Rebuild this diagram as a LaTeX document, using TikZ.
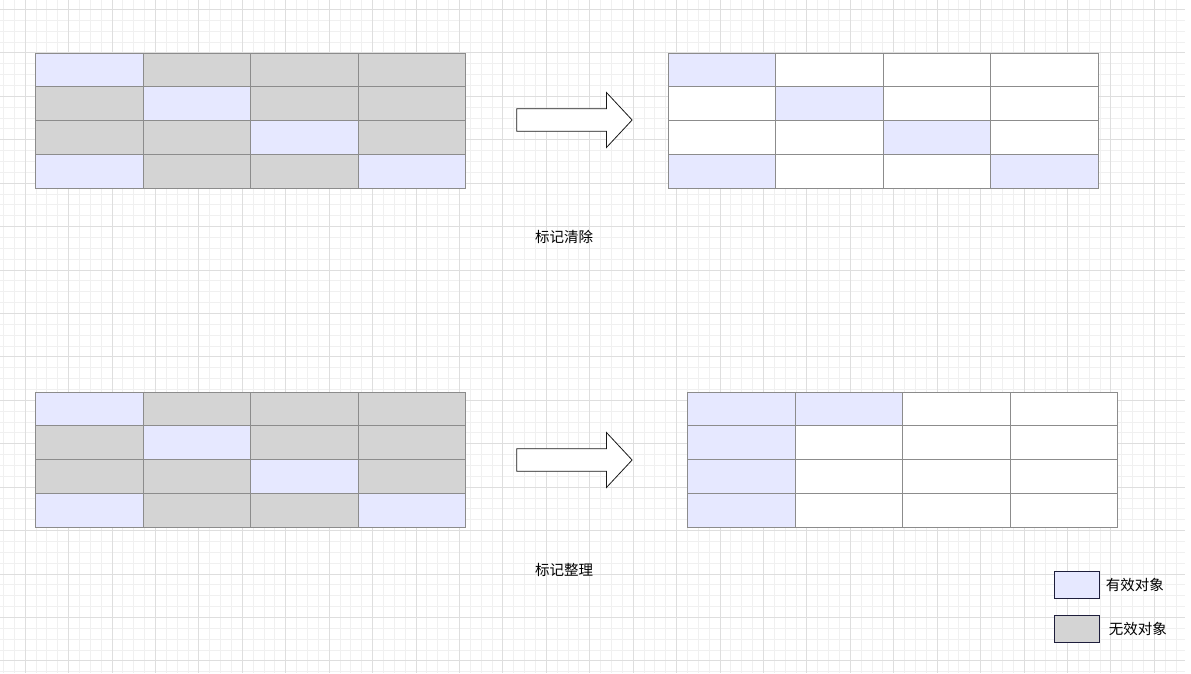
\documentclass[tikz,border=0pt]{standalone}
\usepackage{fontspec}
\setmainfont{Noto Sans CJK SC}
\usepackage{xcolor}
\usepackage{tikz}
\usetikzlibrary{positioning,shapes.arrows}
\definecolor{live}{HTML}{E6E8FF}
\definecolor{dead}{HTML}{D4D4D4}
\definecolor{free}{HTML}{FFFFFF}
\definecolor{cellline}{HTML}{8C8C8C}
\definecolor{keyline}{HTML}{1E1E3C}
\newcommand{\memtable}[4]{%
  \foreach \row [count=\r from 0] in {#4} {
    \foreach \f [count=\c from 0] in \row {
      \node[cell=\f] (#1-\r-\c) at ({#2+\c*107.5},{#3+\r*33.7}) {};
    }
  }
}

\begin{document}
\begin{tikzpicture}[
  x=1pt, y=-1pt,
  every node/.style={font=\fontsize{14.5}{17}\selectfont},
  minorline/.style={draw=black!6, line width=0.6pt},
  majorline/.style={draw=black!13, line width=0.7pt},
  cell/.style={draw=cellline, line width=0.8pt, fill=#1, anchor=north west,
               minimum width=107.5pt, minimum height=33.7pt, inner sep=0pt},
  bigarr/.style={single arrow, draw=black!90, fill=white, line width=0.8pt,
                 anchor=tail, minimum height=115.4pt, inner xsep=0pt, inner ysep=10.85pt,
                 single arrow head extend=16.2pt, single arrow tip angle=94},
  key/.style={draw=keyline, line width=0.8pt, fill=#1, anchor=north west,
              minimum width=44.5pt, minimum height=27pt, inner sep=0pt}
]
  \useasboundingbox[fill=white] (0,0) rectangle (1191,673);
  % Grid
  \foreach \i in {0,...,108} \draw[minorline] ({3.28+\i*10.857},0) -- ++(0,673);
  \foreach \i in {0,...,61} \draw[minorline] (0,{9.3+\i*10.857}) -- ++(1185,0);
  \foreach \i in {0,...,26} \draw[majorline] ({25+\i*43.43},0) -- ++(0,673);
  \foreach \i in {0,...,15} \draw[majorline] (0,{9.3+\i*43.43}) -- ++(1185,0);
  % Mark-sweep
  \memtable{sweepA}{35.3}{52.7}{{live,dead,dead,dead},{dead,live,dead,dead},{dead,dead,live,dead},{live,dead,dead,live}}
  \memtable{sweepB}{667.8}{52.7}{{live,free,free,free},{free,live,free,free},{free,free,live,free},{live,free,free,live}}
  \node[bigarr] (sweeparr) at (516.3,120) {};
  \node (sweeplbl) at (564,237) {标记清除};
  % Mark-compact
  \memtable{compA}{35.3}{391.7}{{live,dead,dead,dead},{dead,live,dead,dead},{dead,dead,live,dead},{live,dead,dead,live}}
  \memtable{compB}{687.3}{391.7}{{live,live,free,free},{live,free,free,free},{live,free,free,free},{live,free,free,free}}
  \node[bigarr] (comparr) at (516.3,460) {};
  \node (complbl) at (564,570) {标记整理};
  % Legend
  \node[key=live] (keylive) at (1054,571.3) {};
  \node[key=dead] (keydead) at (1054,615.3) {};
  \node[right=3pt of keylive] (livetxt) {有效对象};
  \node[right=6pt of keydead] (deadtxt) {无效对象};
\end{tikzpicture}
\end{document}
